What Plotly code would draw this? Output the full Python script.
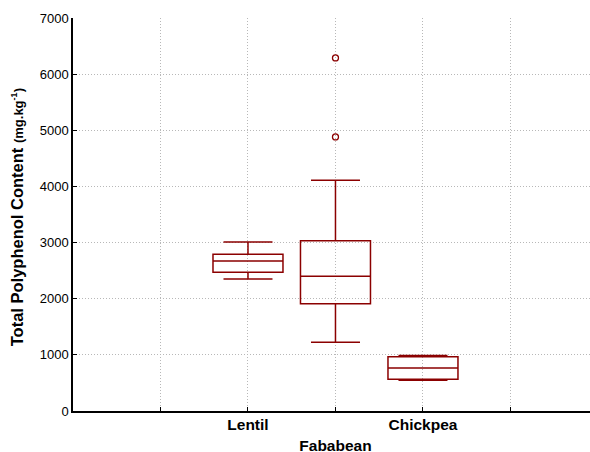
import plotly.graph_objects as go

# Box statistics per legume (mg/kg)
legumes = ["Lentil", "Fababean", "Chickpea"]
positions = [1, 2, 3]
q1_vals = [2470, 1911, 565]
median_vals = [2672, 2399, 766]
q3_vals = [2791, 3034, 967]
lower_whisker = [2351, 1224, 547]
upper_whisker = [3010, 4109, 990]

# Outlying observations (Fababean only)
outlier_pos = [2, 2]
outlier_vals = [6288, 4881]

# Tick layout: grid lines at 0..4, category labels at 1..3 (middle one staggered)
tick_vals = [0, 1, 2, 3, 4]
tick_text = ["", "Lentil", "<br>Fababean", "Chickpea", ""]

line_color = "#8B0000"
font_family = "Liberation Sans, Arial, sans-serif"
grid_color = "#b8b8b8"
grid_dash = "1px,2px"

fig = go.Figure()
for i, name in enumerate(legumes):
    fig.add_trace(go.Box(
        x=[positions[i]],
        q1=[q1_vals[i]],
        median=[median_vals[i]],
        q3=[q3_vals[i]],
        lowerfence=[lower_whisker[i]],
        upperfence=[upper_whisker[i]],
        name=name,
        width=0.8,
        whiskerwidth=0.7,
        line=dict(color=line_color, width=1.5),
        fillcolor="rgba(255,255,255,0)",
        boxpoints=False,
        showlegend=False,
        hoverinfo="skip",
    ))

fig.add_trace(go.Scatter(
    x=outlier_pos,
    y=outlier_vals,
    mode="markers",
    marker=dict(symbol="circle-open", size=6, color=line_color, line=dict(width=1.3)),
    showlegend=False,
    hoverinfo="skip",
))

fig.update_layout(
    width=590,
    height=452,
    margin=dict(l=73, r=0, t=18, b=41),
    paper_bgcolor="white",
    plot_bgcolor="white",
    font=dict(family=font_family, color="black"),
    showlegend=False,
)

# Vertical y-axis title placed in the left margin
fig.add_annotation(
    text="<b>Total Polyphenol Content <span style='font-size:13px'>(mg.kg<sup>-1</sup>)</span></b>",
    xref="paper", yref="paper",
    x=-56 / 517, y=0.493,
    xanchor="center", yanchor="middle",
    textangle=-90,
    showarrow=False,
    font=dict(size=16.5, family=font_family, color="black"),
)

fig.update_xaxes(
    range=[-1, 4.909],
    automargin=False,
    tickmode="array",
    tickvals=tick_vals,
    ticktext=[f"<b>{t}</b>" if t else "" for t in tick_text],
    tickfont=dict(size=15.5, family=font_family, color="black"),
    ticklabelstandoff=-1,
    showgrid=True,
    gridcolor=grid_color,
    griddash=grid_dash,
    gridwidth=1,
    showline=True,
    linecolor="black",
    linewidth=1.5,
    ticks="inside",
    ticklen=4,
    tickcolor="black",
    zeroline=False,
)

fig.update_yaxes(
    range=[0, 7000],
    automargin=False,
    tickmode="array",
    tickvals=[0, 1000, 2000, 3000, 4000, 5000, 6000, 7000],
    tickfont=dict(size=13, family=font_family, color="black"),
    showgrid=True,
    gridcolor=grid_color,
    griddash=grid_dash,
    gridwidth=1,
    showline=True,
    linecolor="black",
    linewidth=1.5,
    ticks="inside",
    ticklen=4,
    tickcolor="black",
    zeroline=False,
)

fig.write_html("out.html")
